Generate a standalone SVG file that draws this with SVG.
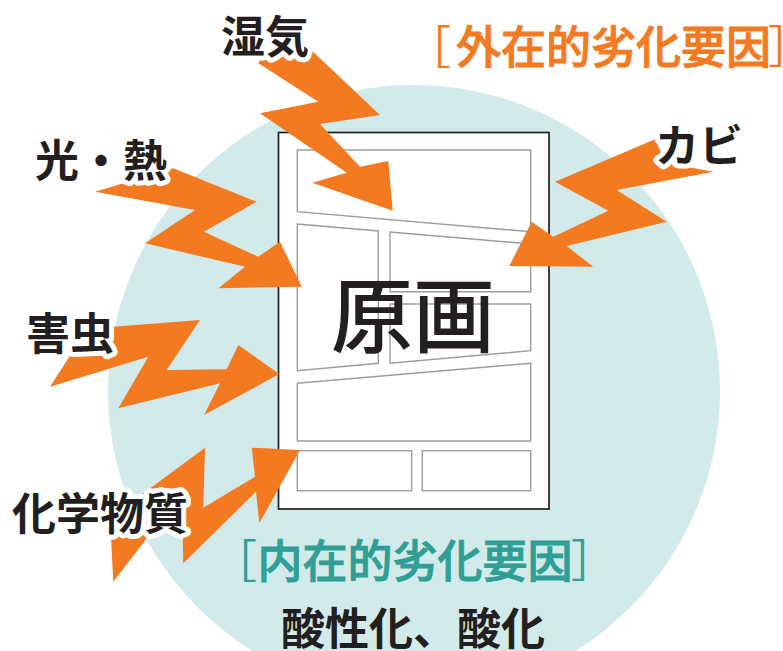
<svg xmlns="http://www.w3.org/2000/svg" width="783" height="651" viewBox="0 0 783 651">
<style>
.bolt{fill:#f37a21;stroke:none}
.panel{fill:#fff;stroke:#9d9d9f;stroke-width:1.4}
.lbl{font-family:"Noto Sans CJK JP","Noto Sans CJK SC",sans-serif;font-weight:700;font-size:44px;fill:#231f20;stroke:#fff;stroke-width:10;stroke-linejoin:round;paint-order:stroke;text-anchor:middle}
.cjk{font-family:"Noto Sans CJK JP","Noto Sans CJK SC",sans-serif}
.ext{fill:#f37a21;font-size:45px;font-weight:500}
.int{fill:#2f9f95;font-size:45px;font-weight:500}
.ext .w{stroke:#f37a21;stroke-width:0.9}
.int .w{stroke:#2f9f95;stroke-width:0.9}
.br{font-weight:400}
</style>
<rect width="783" height="651" fill="#fff"/>
<circle cx="414" cy="391" r="306" fill="#d3eaea"/>
<g id="original">
<rect x="278.5" y="132.5" width="270.5" height="376.5" fill="#fff" stroke="#231f20" stroke-width="1.7"/>
<polygon class="panel" points="297.3,150 530.7,150 530.7,231.7 297.3,211.7"/>
<polygon class="panel" points="297.3,224 378.3,231 378.3,363.3 297.3,370.7"/>
<polygon class="panel" points="390,232 530.7,244 530.7,291.7 390,291.7"/>
<polygon class="panel" points="390,304 530.7,304 530.7,350.7 390,363.3"/>
<polygon class="panel" points="297.3,383.3 530.7,363.3 530.7,441 297.3,441"/>
<rect class="panel" x="297.3" y="450.7" width="114.4" height="40"/>
<rect class="panel" x="422.3" y="450.7" width="108.4" height="40"/>
<text class="cjk" x="413" y="346" font-size="82" font-weight="500" fill="#231f20" text-anchor="middle">原画</text>
</g>
<g id="connectors">
<polygon id="bolt-humidity" class="bolt" points="258.3,63.3 262,57 310,49 380,115 320,124 360,166.7 388.3,161 392.7,210.7 312.3,182.7 346.7,172.7 260,113.3 318.3,101.7"/>
<polygon id="bolt-light" class="bolt" points="95,191.7 173.3,168.3 256.7,201.7 204,231.7 258.3,256.7 280,241.7 301.7,286.7 218.3,288.3 245,266.7 145,243.3 195,210"/>
<polygon id="bolt-insect" class="bolt" points="50,386.7 87.3,328.7 200,320 166.7,370 226.7,369.3 238.3,345 279.3,374 204,415 220,383.3 118.3,408.3 148.3,356.7"/>
<polygon id="bolt-chem" class="bolt" points="113.3,581.7 110,518 205,447.7 203.3,507.7 255,476.7 251.7,447.7 300,450 259.3,523.3 256,491.7 183.3,563.3 181.7,493.3"/>
<polygon id="bolt-mold" class="bolt" points="655,139.3 666,163 713.3,171.7 616.7,190 666.7,221.7 566.7,246 593.3,266.7 509.3,266 531.7,221.7 553.3,236.7 608.3,210.7 555,181.7"/>
</g>
<g id="label-humidity"><text class="lbl" x="265" y="53">湿気</text></g>
<g id="label-light"><text class="lbl" x="101" y="177">光・熱</text></g>
<g id="label-insect"><text class="lbl" x="70" y="350">害虫</text></g>
<g id="label-chem"><text class="lbl" x="100" y="530">化学物質</text></g>
<g id="label-mold"><text class="lbl" x="699" y="162">カビ</text></g>
<g id="external">
<text class="cjk ext" y="63.5"><tspan class="br" x="406">［</tspan><tspan class="w" x="456">外在的劣化要因</tspan><tspan class="br" x="768">］</tspan></text>
</g>
<g id="internal">
<text class="cjk int" y="577.5"><tspan class="br" x="212">［</tspan><tspan class="w" x="257.5">内在的劣化要因</tspan><tspan class="br" x="571">］</tspan></text>
<text class="cjk" x="413" y="645" font-size="44" font-weight="700" fill="#231f20" text-anchor="middle">酸性化、酸化</text>
</g>
</svg>
